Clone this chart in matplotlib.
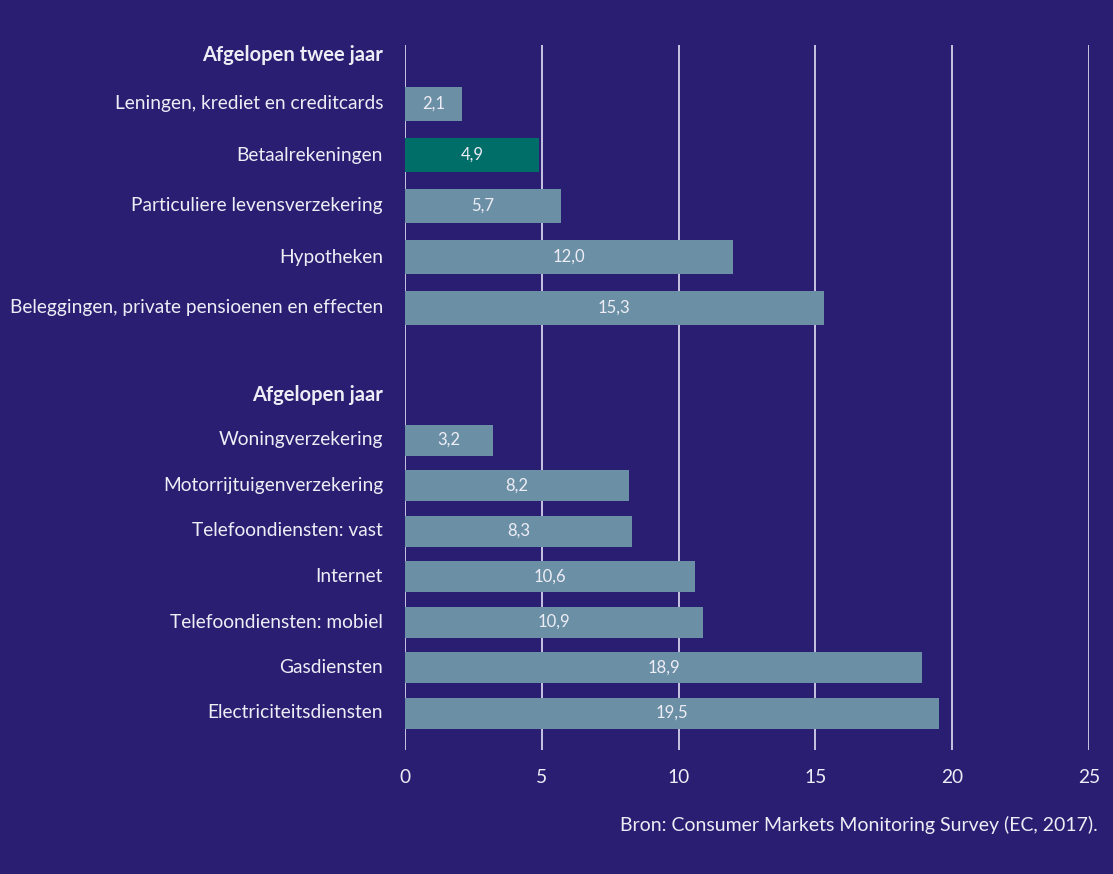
import matplotlib
matplotlib.use("Agg")
import matplotlib.pyplot as plt

# Data
group1_title = "Afgelopen twee jaar"
group1_labels = ["Leningen, krediet en creditcards", "Betaalrekeningen",
                 "Particuliere levensverzekering", "Hypotheken",
                 "Beleggingen, private pensioenen en effecten"]
group1_values = [2.1, 4.9, 5.7, 12.0, 15.3]
group1_highlight = [False, True, False, False, False]

group2_title = "Afgelopen jaar"
group2_labels = ["Woningverzekering", "Motorrijtuigenverzekering",
                 "Telefoondiensten: vast", "Internet", "Telefoondiensten: mobiel",
                 "Gasdiensten", "Electriciteitsdiensten"]
group2_values = [3.2, 8.2, 8.3, 10.6, 10.9, 18.9, 19.5]

xticks = [0, 5, 10, 15, 20, 25]
source = "Bron: Consumer Markets Monitoring Survey (EC, 2017)."

# Style
BG = "#2a1e72"
BAR = "#6b90a5"
HL = "#006e68"
GRID = "#d4d0ea"
TXT = "#eeedf6"
FONT = "Lato"

W, H = 1113, 874
fig = plt.figure(figsize=(W / 100, H / 100), dpi=100, facecolor=BG)
y_top, y_bot = 45, 750
ax = fig.add_axes([405 / W, 1 - y_bot / H, (1089 - 405) / W, (y_bot - y_top) / H])
ax.set_facecolor(BG)
ax.set_xlim(0, 25)
ax.set_ylim(y_bot, y_top)

# Layout (positions in the axes' vertical units)
h1_pos, g1_start, g1_step, g1_h = 55, 104, 51, 34
h2_pos, g2_start, g2_step, g2_h = 395, 440, 45.5, 31

for x in xticks:
    ax.axvline(x, color=GRID, lw=1.3, zorder=1)

def draw_group(title, labels, values, hl, hpos, start, step, h):
    ax.text(-0.8, hpos, title, ha="right", va="center", color=TXT,
            fontsize=14.5, fontweight="bold", family=FONT)
    for i, (lab, v) in enumerate(zip(labels, values)):
        y = start + step * i
        c = HL if hl[i] else BAR
        ax.barh(y, v, height=h, color=c, zorder=2)
        ax.text(-0.8, y, lab, ha="right", va="center", color=TXT,
                fontsize=13.8, family=FONT)
        ax.text(v / 2, y, f"{v:.1f}".replace(".", ","), ha="center",
                va="center", color=TXT, fontsize=12, family=FONT, zorder=3)

draw_group(group1_title, group1_labels, group1_values, group1_highlight,
           h1_pos, g1_start, g1_step, g1_h)
draw_group(group2_title, group2_labels, group2_values, [False] * len(group2_values),
           h2_pos, g2_start, g2_step, g2_h)

ax.set_xticks(xticks)
ax.set_xticklabels([str(t) for t in xticks], color=TXT, fontsize=13.8, family=FONT)
ax.tick_params(axis="x", length=0, pad=14)
ax.set_yticks([])
for s in ax.spines.values():
    s.set_visible(False)

fig.text(1098 / W, 1 - 825 / H, source, ha="right", va="center", color=TXT,
         fontsize=14, family=FONT)

fig.savefig("out.png", dpi=100, facecolor=BG)
